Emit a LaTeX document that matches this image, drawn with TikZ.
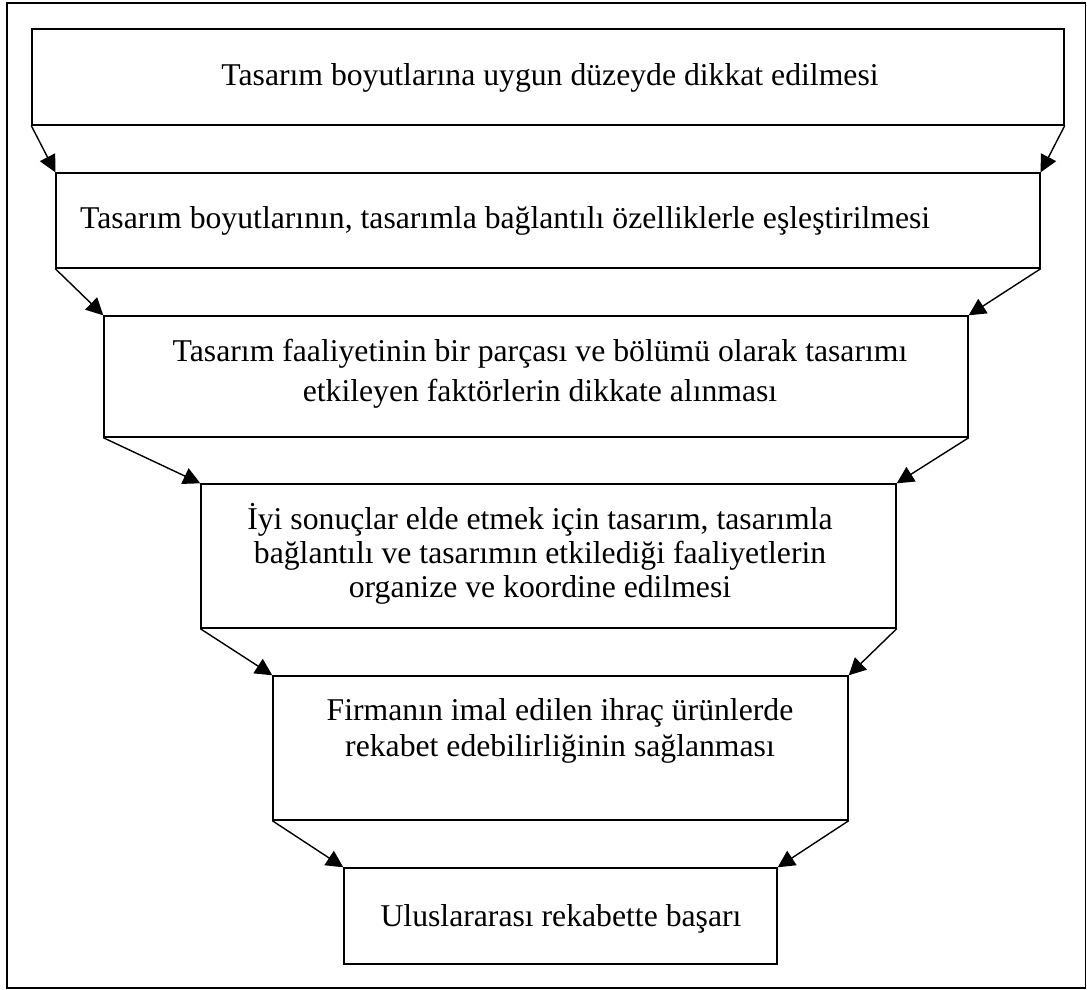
\documentclass[tikz,border=0pt]{standalone}
\usepackage{fontspec}
\setmainfont{Liberation Serif}
\usetikzlibrary{fit,arrows.meta}
\begin{document}
\begin{tikzpicture}[x=1pt,y=-1pt,
  stagebox/.style={draw=black,line width=1.4pt,inner sep=0pt,fit={#1}},
  stagetext/.style={inner sep=0pt,font=\fontsize{31.7}{36}\selectfont,align=center,anchor=base},
  flow/.style={draw=black,line width=1.4pt,-{Triangle[length=17pt,width=17pt]}}]
\useasboundingbox (0,0) rectangle (1087,990);
% outer frame
\draw[line width=1.4pt] (7,3) rectangle (1085.5,988);
% stage boxes
\node[stagebox={(32,29)(1064,125)}] (b1) {};
\node[stagebox={(56,173)(1040,268)}] (b2) {};
\node[stagebox={(104,316)(968,437)}] (b3) {};
\node[stagebox={(201,484)(896,628)}] (b4) {};
\node[stagebox={(273,676)(848,820)}] (b5) {};
\node[stagebox={(344,868)(777,964)}] (b6) {};
% texts (multi-line nodes are placed by the baseline of their last line)
\node[stagetext] (t1) at (550,85) {Tasarım boyutlarına uygun düzeyde dikkat edilmesi};
\node[stagetext,anchor=base west] (t2) at (80,228) {Tasarım boyutlarının, tasarımla bağlantılı özelliklerle eşleştirilmesi};
\node[stagetext,font=\fontsize{31.7}{40}\selectfont] (t3) at (540,401) {Tasarım faaliyetinin bir parçası ve bölümü olarak tasarımı\\etkileyen faktörlerin dikkate alınması};
\node[stagetext,font=\fontsize{31.7}{34}\selectfont] (t4) at (540,597) {İyi sonuçlar elde etmek için tasarım, tasarımla\\bağlantılı ve tasarımın etkilediği faaliyetlerin\\organize ve koordine edilmesi};
\node[stagetext] (t5) at (560,756) {Firmanın imal edilen ihraç ürünlerde\\rekabet edebilirliğinin sağlanması};
\node[stagetext] (t6) at (561,926) {Uluslararası rekabette başarı};
% connectors
\draw[flow] (b1.south west) -- (b2.north west);
\draw[flow] (b1.south east) -- (b2.north east);
\draw[flow] (b2.south west) -- (b3.north west);
\draw[flow] (b2.south east) -- (b3.north east);
\draw[flow] (b3.south west) -- (b4.north west);
\draw[flow] (b3.south east) -- (b4.north east);
\draw[flow] (b4.south west) -- (b5.north west);
\draw[flow] (b4.south east) -- (b5.north east);
\draw[flow] (b5.south west) -- (b6.north west);
\draw[flow] (b5.south east) -- (b6.north east);
\end{tikzpicture}
\end{document}
